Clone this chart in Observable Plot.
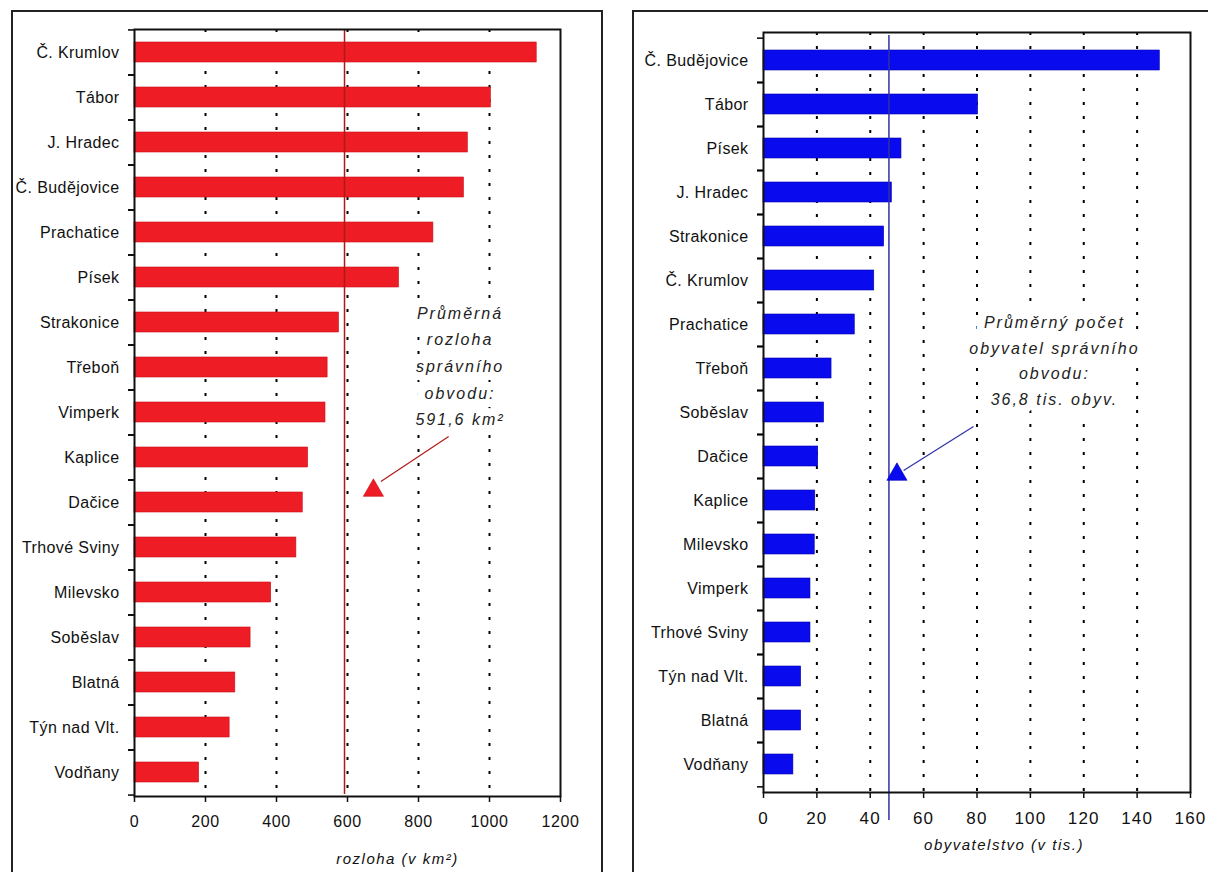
<!DOCTYPE html>
<html><head><meta charset="utf-8">
<script src="https://cdn.jsdelivr.net/npm/d3@7"></script>
<script src="https://cdn.jsdelivr.net/npm/@observablehq/plot@0.6"></script>
<style>
body{margin:0;background:#fff;width:1208px;height:872px;overflow:hidden;position:relative;font-family:"Liberation Sans",Arial,sans-serif}
.panel{position:absolute;top:10px;border:2px solid #222;background:#fff;box-sizing:border-box;overflow:hidden}
#left{left:11px;width:592px;height:880px}
#right{left:632px;width:600px;height:880px}
</style></head><body>
<div id="left" class="panel"></div><div id="right" class="panel"></div>
<script>
// ---- left chart: area (km²)
const areaDistricts = ["Č. Krumlov","Tábor","J. Hradec","Č. Budějovice","Prachatice","Písek","Strakonice","Třeboň","Vimperk","Kaplice","Dačice","Trhové Sviny","Milevsko","Soběslav","Blatná","Týn nad Vlt.","Vodňany"];
const areaValues = [1133,1004,939,928,842,745,576,544,538,489,474,456,385,327,284,268,182];
const areaMean = 591.6;
const areaTicks = [0,200,400,600,800,1000,1200];
const areaNoteText = "Průměrná\nrozloha\nsprávního\nobvodu:\n591,6 km²";
const areaTitle = "rozloha (v km²)";

// ---- right chart: population (thousands)
const popDistricts = ["Č. Budějovice","Tábor","Písek","J. Hradec","Strakonice","Č. Krumlov","Prachatice","Třeboň","Soběslav","Dačice","Kaplice","Milevsko","Vimperk","Trhové Sviny","Týn nad Vlt.","Blatná","Vodňany"];
const popValues = [148.5,80.4,51.7,48.1,45.2,41.5,34.2,25.5,22.7,20.5,19.4,19.2,17.6,17.6,14.1,14.1,11.2];
const popMeanLine = 47;
const popTicks = [0,20,40,60,80,100,120,140,160];
const popNoteText = "Průměrný počet\nobyvatel správního\nobvodu:\n36,8 tis. obyv.";
const popTitle = "obyvatelstvo (v tis.)";

const font = "'Liberation Sans', Arial, sans-serif";

function panel(o) {
  const rows = o.districts.map((d, i) => ({district: d, value: o.values[i]}));
  const frameH = o.height - o.marginTop - o.marginBottom;
  const step = frameH / o.districts.length;
  const max = o.ticks[o.ticks.length - 1];
  const svg = Plot.plot({
    width: o.width, height: o.height,
    marginLeft: o.marginLeft, marginRight: o.marginRight,
    marginTop: o.marginTop, marginBottom: o.marginBottom,
    style: {fontFamily: font, fontSize: "16px", background: "white", color: "#111"},
    x: {domain: [0, max], axis: null},
    y: {domain: o.districts, paddingInner: 0.55, paddingOuter: 0.275, axis: null},
    marks: [
      Plot.gridX(o.ticks.slice(1, -1), {stroke: "#000", strokeOpacity: 1, strokeWidth: 2, strokeDasharray: "3,11"}),
      Plot.barX(rows, {x: "value", y: "district", fill: o.color, stroke: o.edge, strokeWidth: 0.6}),
      Plot.ruleX([o.meanLine], {stroke: o.lineColor, strokeWidth: 1.5, insetTop: o.lineInsetTop, insetBottom: o.lineInsetBottom}),
      Plot.text([o.noteText], {x: () => o.noteX, y: () => o.noteY, dy: o.noteDy, text: d => d,
        fontSize: 16, fontStyle: "italic", lineHeight: o.noteLineHeight, fill: "#222",
        stroke: "white", strokeWidth: 16, strokeLinejoin: "round"}),
      Plot.link([0], {x1: () => o.arrow.x1, y1: () => o.arrow.y1, x2: () => o.arrow.x2, y2: () => o.arrow.y2,
        dy: o.arrow.dy, stroke: o.lineColor, strokeWidth: 1.2}),
      Plot.dot([0], {x: () => o.arrow.tx, y: () => o.arrow.y2, dy: o.arrow.tdy, symbol: "triangle", r: 7.5, fill: o.color, stroke: o.edge, strokeWidth: 0.6}),
      Plot.ruleY(o.districts, {y: d => d, dy: -step / 2, x1: 0, x2: 0, insetLeft: -6, stroke: "#000", strokeWidth: 1.5}),
      Plot.ruleY(o.districts, {y: d => d, dy: step / 2, x1: 0, x2: 0, insetLeft: -6, stroke: "#000", strokeWidth: 1.5}),
      Plot.frame({stroke: "#111", strokeWidth: 2}),
      Plot.axisY({anchor: "left", tickSize: 0, tickPadding: 15, fontSize: 16, label: null}),
      Plot.axisX({ticks: o.ticks, tickFormat: d => String(d), anchor: "bottom", tickSize: 6, tickPadding: 13, fontSize: o.tickFont, label: null, strokeWidth: 1.5}),
      Plot.text([o.title], {frameAnchor: "bottom", dx: o.titleDx, dy: o.titleDy, text: d => d,
        fontSize: 15, fontStyle: "italic", fill: "#111"})
    ]
  });
  const s = d3.select(svg);
  const texts = s.selectAll('g[aria-label="text"]').nodes();
  if (texts[0]) d3.select(texts[0]).style("letter-spacing", "2px");
  if (texts[1]) d3.select(texts[1]).style("letter-spacing", "1.5px");
  s.selectAll('g[aria-label="y-axis tick label"]').style("letter-spacing", "0.4px");
  s.selectAll('g[aria-label="x-axis tick label"]').style("letter-spacing", o.tickSpacing);
  return svg;
}

document.getElementById("left").appendChild(panel({
  districts: areaDistricts, values: areaValues, ticks: areaTicks,
  width: 588, height: 860, marginLeft: 121, marginRight: 41, marginTop: 17, marginBottom: 76,
  color: "#ee1c24", edge: "#c81018", lineColor: "#b01818",
  meanLine: areaMean, lineInsetTop: 0, lineInsetBottom: 2,
  noteText: areaNoteText, noteX: 917, noteY: "Třeboň", noteDy: -4, noteLineHeight: 1.66,
  arrow: {x1: 885, y1: "Vimperk", x2: 694, y2: "Kaplice", dy: 24, tx: 673, tdy: 33},
  title: areaTitle, titleDx: 50, titleDy: 67, tickFont: 16, tickSpacing: "0.6px"
}));

document.getElementById("right").appendChild(panel({
  districts: popDistricts, values: popValues, ticks: popTicks,
  width: 596, height: 860, marginLeft: 129, marginRight: 40, marginTop: 20, marginBottom: 80,
  color: "#0a0aee", edge: "#0000b0", lineColor: "#3030a8",
  meanLine: popMeanLine, lineInsetTop: 3, lineInsetBottom: -28,
  noteText: popNoteText, noteX: 109, noteY: "Třeboň", noteDy: -10, noteLineHeight: 1.6,
  arrow: {x1: 78.7, y1: "Soběslav", x2: 52.5, y2: "Dačice", dy: 14, tx: 50, tdy: 18},
  title: popTitle, titleDx: 27, titleDy: 57, tickFont: 17, tickSpacing: "1.2px"
}));
</script>
</body></html>
